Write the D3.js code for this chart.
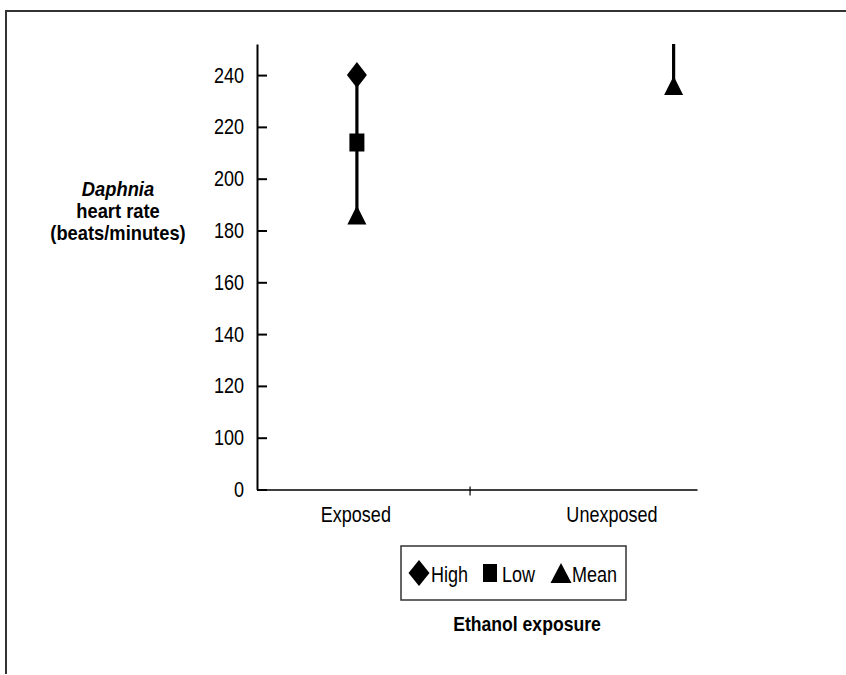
<!DOCTYPE html>
<html>
<head>
<meta charset="utf-8">
<script src="https://cdn.jsdelivr.net/npm/d3@7"></script>
<style>
  body { margin: 0; background: #fff; }
  svg { display: block; font-family: "Liberation Sans", Arial, sans-serif; }
</style>
</head>
<body>
<div class="vis"></div>
<script>
// data
const categories = ["Exposed", "Unexposed"];
const highValues = [240, 290];   // unexposed high is off the top of the chart
const lowValues = [214, 268];
const meanValues = [186, 236];
const tickValues = [80, 100, 120, 140, 160, 180, 200, 220, 240];
const tickLabels = ["0", "100", "120", "140", "160", "180", "200", "220", "240"];
const legendLabels = ["High", "Low", "Mean"];

const W = 846, H = 675;
const FS = 22;    // font size
const SX = 0.82;  // narrow text

const svg = d3.select('.vis').append('svg')
    .attr('width', W)
    .attr('height', H);

// outer frame (top and left only)
svg.append('path')
    .attr('d', `M6,674 V11 H${W}`)
    .attr('fill', 'none')
    .attr('stroke', '#333')
    .attr('stroke-width', 2);

const plot = {left: 257, right: 697, top: 44, bottom: 489.5};

const y = d3.scaleLinear()
    .domain([80, 252])
    .range([plot.bottom, plot.top]);

// x is a position scale; category slots are placed by layout constants below
const x = d3.scaleLinear()
    .domain([0, 2.07])
    .range([plot.left, plot.right]);
const markerPos = [0.47, 1.96];
const labelPos = [0.465, 1.67];

function narrowText(parent, px, py, txt, size = FS, sx = SX) {
    return parent.append('g')
        .attr('transform', `translate(${px},${py}) scale(${sx},1)`)
        .append('text')
        .attr('font-size', size)
        .attr('fill', '#000')
        .text(txt);
}

// y axis
const yAxis = d3.axisLeft(y)
    .tickValues(tickValues)
    .tickFormat((d, i) => tickLabels[i])
    .tickSizeInner(-10)
    .tickSizeOuter(0)
    .tickPadding(13);

const gy = svg.append('g')
    .attr('transform', `translate(${plot.left},0)`)
    .call(yAxis);
gy.select('.domain').attr('stroke', '#000').attr('stroke-width', 2);
gy.selectAll('.tick line').attr('stroke', '#000').attr('stroke-width', 2);
gy.selectAll('.tick text')
    .attr('font-size', FS)
    .attr('font-family', '"Liberation Sans", Arial, sans-serif')
    .attr('fill', '#000')
    .attr('x', -13 / SX)
    .attr('transform', `scale(${SX},1)`);

// x axis
const xAxis = d3.axisBottom(x)
    .tickValues([1])
    .tickFormat('')
    .tickSizeOuter(0)
    .tickSizeInner(6);
const gx = svg.append('g')
    .attr('transform', `translate(0,${plot.bottom})`)
    .call(xAxis);
gx.select('.domain').attr('stroke', '#000').attr('stroke-width', 1.5);
gx.selectAll('.tick line').attr('y1', -3).attr('stroke', '#000').attr('stroke-width', 1.2);

categories.forEach((c, i) => {
    narrowText(svg, x(labelPos[i]), 522, c).attr('text-anchor', 'middle');
});

// y title
const titleX = 118;
narrowText(svg, titleX, 196, 'Daphnia', 19.5, 0.94)
    .attr('text-anchor', 'middle').attr('font-weight', 'bold').attr('font-style', 'italic');
narrowText(svg, titleX, 218, 'heart rate', 19.5, 0.94)
    .attr('text-anchor', 'middle').attr('font-weight', 'bold');
narrowText(svg, titleX, 240, '(beats/minutes)', 19.5, 0.94)
    .attr('text-anchor', 'middle').attr('font-weight', 'bold');

// marker shapes (w x h boxes centred on the point)
const diamond = (w, h) => `M0,${-h / 2}L${w / 2},0L0,${h / 2}L${-w / 2},0Z`;
const square = (w, h) => `M${-w / 2},${-h / 2}H${w / 2}V${h / 2}H${-w / 2}Z`;
const triangle = (w, h) => `M0,${-h / 2}L${w / 2},${h / 2}H${-w / 2}Z`;

svg.append('defs').append('clipPath').attr('id', 'plotclip')
    .append('rect')
    .attr('x', plot.left)
    .attr('y', plot.top)
    .attr('width', plot.right - plot.left)
    .attr('height', plot.bottom - plot.top);

const marks = svg.append('g').attr('clip-path', 'url(#plotclip)');

categories.forEach((c, i) => {
    const vals = [highValues[i], lowValues[i], meanValues[i]];
    const cx = x(markerPos[i]);
    marks.append('line')
        .attr('x1', cx).attr('x2', cx)
        .attr('y1', y(d3.max(vals)))
        .attr('y2', y(d3.min(vals)))
        .attr('stroke', '#000')
        .attr('stroke-width', 3.2);
    marks.append('path')
        .attr('d', diamond(20, 26))
        .attr('transform', `translate(${cx},${y(highValues[i])})`);
    marks.append('path')
        .attr('d', square(15, 18))
        .attr('transform', `translate(${cx},${y(lowValues[i])})`);
    marks.append('path')
        .attr('d', triangle(19, 19))
        .attr('transform', `translate(${cx},${y(meanValues[i])})`);
});

// legend
const legend = svg.append('g');
legend.append('rect')
    .attr('x', 401).attr('y', 546)
    .attr('width', 225).attr('height', 54)
    .attr('fill', 'none')
    .attr('stroke', '#333')
    .attr('stroke-width', 1.5);

const legShapes = [diamond(21, 26), square(14, 18), triangle(21, 20)];
const legShapeX = [419, 490, 561];
const legTextX = [431, 502, 572];
legendLabels.forEach((lab, i) => {
    legend.append('path')
        .attr('d', legShapes[i])
        .attr('transform', `translate(${legShapeX[i]},573)`);
    narrowText(legend, legTextX[i], 582, lab);
});

narrowText(svg, 527, 631, 'Ethanol exposure', 20, 0.88)
    .attr('text-anchor', 'middle').attr('font-weight', 'bold');
</script>
</body>
</html>
